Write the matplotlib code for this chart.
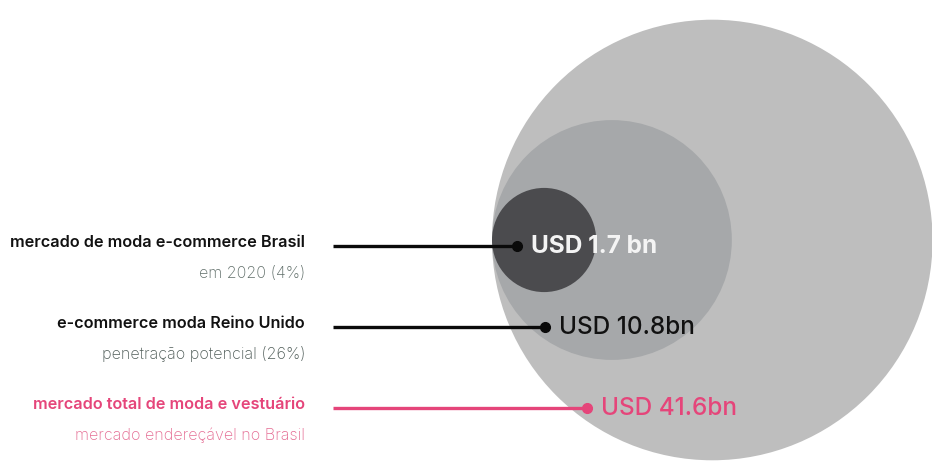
import numpy as np
import matplotlib.pyplot as plt
from matplotlib.patches import Circle

# market sizes (USD bn), from smallest to largest
values = [1.7, 10.8, 41.6]
value_labels = ["USD 1.7 bn", "USD 10.8bn", "USD 41.6bn"]
titles = ["mercado de moda e-commerce Brasil",
          "e-commerce moda Reino Unido",
          "mercado total de moda e vestuário"]
subtitles = ["em 2020 (4%)",
             "penetração potencial (26%)",
             "mercado endereçável no Brasil"]

# styles
circle_colors = ["#4b4b4e", "#a6a8aa", "#bebebe"]
title_colors = ["#111111", "#111111", "#e5457a"]
sub_colors = ["#5f6d68", "#4f5c58", "#e56c93"]
line_colors = ["#0a0a0a", "#0a0a0a", "#e5457a"]
value_colors = ["#f4f4f4", "#111111", "#e5457a"]

W, H = 932, 461
plt.rcParams['font.family'] = ['Inter', 'DejaVu Sans']

fig = plt.figure(figsize=(W / 100, H / 100), dpi=100)
ax = fig.add_axes([0, 0, 1, 1])
ax.set_xlim(0, W)
ax.set_ylim(H, 0)
ax.set_aspect('equal')
ax.axis('off')

# bubbles share a common left tangent point; radius follows a power scale
left_x, center_y = 492, 240
scale_k, scale_p = 41.0, 0.451
radii = [scale_k * v ** scale_p for v in values]
for r, c in sorted(zip(radii, circle_colors), reverse=True):
    ax.add_patch(Circle((left_x + r, center_y), r, facecolor=c, edgecolor='none', zorder=1))

# leader lines and labels
row_y = [246, 327, 408]
dot_x = [517, 545, 587]
line_start = 333
text_right = 305
for i in range(len(values)):
    y = row_y[i]
    ax.plot([line_start, dot_x[i]], [y, y], color=line_colors[i], lw=2.4,
            solid_capstyle='butt', zorder=3)
    ax.plot(dot_x[i], y, 'o', color=line_colors[i], ms=7, zorder=4)
    ax.text(dot_x[i] + 14, y, value_labels[i], color=value_colors[i], fontsize=17.5,
            fontweight='bold' if i == 0 else 'medium', va='center', ha='left', zorder=5)
    ax.text(text_right, y - 4, titles[i], color=title_colors[i], fontsize=11.7,
            fontweight='semibold', va='center', ha='right')
    ax.text(text_right, y + 27, subtitles[i], color=sub_colors[i], fontsize=11.6,
            fontweight='light', va='center', ha='right')

fig.savefig("out.png", dpi=100)
